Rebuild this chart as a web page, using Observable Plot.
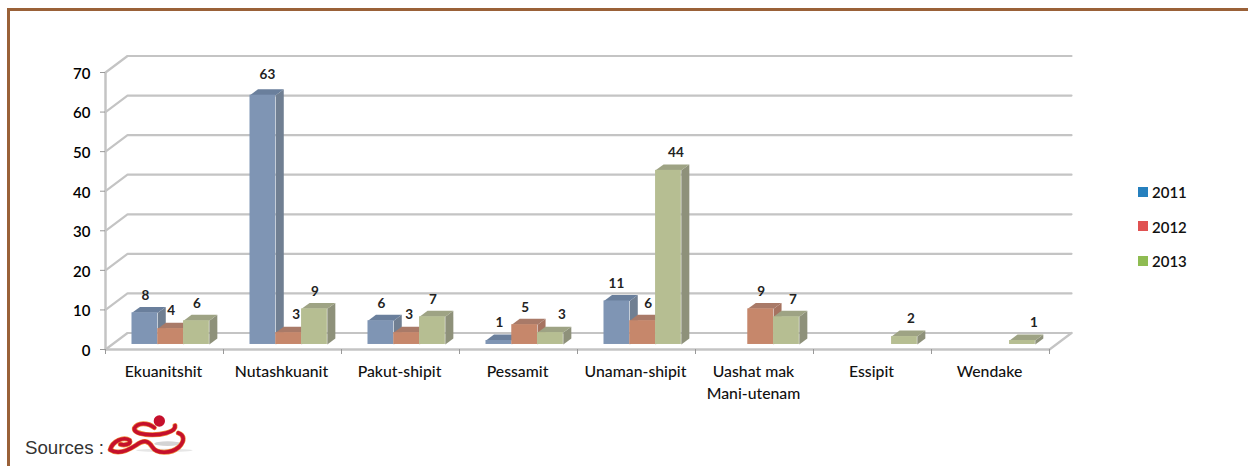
<!DOCTYPE html>
<html><head><meta charset="utf-8">
<script src="https://cdn.jsdelivr.net/npm/d3@7"></script>
<script src="https://cdn.jsdelivr.net/npm/@observablehq/plot@0.6"></script>
<style>
html,body{margin:0;padding:0;background:#fff}
#wrap{position:relative;width:1248px;height:466px;overflow:hidden}
#frame{position:absolute;left:7px;top:8px;right:-5px;bottom:-5px;border-top:3px solid #9a6138;border-left:3px solid #9a6138}
#chart{position:absolute;left:0;top:0}
#legend{position:absolute;left:1138px;top:175px;font:600 15px Lato,sans-serif;color:#111}
#legend div{display:flex;align-items:center;height:35px;gap:4px;margin-top:-.5px}
#legend i{display:block;width:10px;height:10px;margin-top:-1px}
#sources{position:absolute;left:25px;top:437px;font:18.7px "Liberation Sans",Arial,sans-serif;color:#333;line-height:21px}
#logo{position:absolute;left:101px;top:411px}
</style></head><body>
<div id="wrap"><div id="frame"></div><div id="chart"></div>
<div id="legend"></div>
<div id="sources">Sources :</div>
<svg id="logo" width="100" height="56" viewBox="0 0 300 168" fill="none" stroke-linecap="round" stroke-linejoin="round">
<ellipse cx="200" cy="98" rx="40" ry="7" fill="#d4d4d4" stroke="none"/>
<ellipse cx="190" cy="118" rx="85" ry="5" fill="#e6e6e6" stroke="none"/>
<g stroke="#ef8a3a" stroke-width="15">
<path d="M28 116C34 90 68 76 86 88C92 100 70 104 58 100"/>
<path d="M28 116C50 132 82 118 106 102C128 86 142 88 154 108C166 128 208 130 234 108C252 90 250 72 232 66"/>
<path d="M160 50C140 34 110 34 100 52C98 72 160 76 196 66C216 60 224 52 222 44"/>
</g>
<g stroke="#c5102c" stroke-width="11">
<path d="M28 116C34 90 68 76 86 88C92 100 70 104 58 100"/>
<path d="M28 116C50 132 82 118 106 102C128 86 142 88 154 108C166 128 208 130 234 108C252 90 250 72 232 66"/>
<path d="M160 50C140 34 110 34 100 52C98 72 160 76 196 66C216 60 224 52 222 44"/>
</g>
<circle cx="175" cy="30" r="17" fill="#c5102c" stroke="none"/>
</svg>
</div>
<script>
// ---- data ----
const categories = ["Ekuanitshit","Nutashkuanit","Pakut-shipit","Pessamit","Unaman-shipit","Uashat mak\nMani-utenam","Essipit","Wendake"];
const years = ["2011","2012","2013"];
const values2011 = [8,63,6,1,11,null,null,null];
const values2012 = [4,3,3,5,6,9,null,null];
const values2013 = [6,9,7,3,44,7,2,1];
const yTicks = [0,10,20,30,40,50,60,70];
// ---- styling ----
const legendColors = ["#2680be","#e05252","#8fbc52"];
const frontColors = ["#7f95b4","#c6876b","#b6be92"];
const topColors = ["#6a7f9c","#a97a68","#9ea384"];
const sideColors = ["#707f92","#a67360","#8e917a"];
const grid = "#c4c4c4";
// ---- layout, in scale units ----
const wallDX = 22/118, wallDY = 16.5/3.957;   // depth of the floor
const barDX = 8/118, barDY = 1.5;             // depth of one bar
const barW = 0.2185, groupStart = 0.2245, base = 1.27;
const nudge = [[0,0,0],[4,7,0],[0,2,0],[0,0,11],[-1,5,7],[0,0,6],[0,0,6],[0,0,11]];

const series = [values2011,values2012,values2013];
const bars = [];
series.forEach((vals,s)=>vals.forEach((v,c)=>{
  if(v==null) return;
  const x1 = c+groupStart+s*barW, x2 = x1+barW;
  bars.push({c,s,v,x1,x2,y1:base,y2:base+v,year:years[s]});
}));
bars.sort((a,b)=>a.c-b.c||a.s-b.s);
const faces = bars.flatMap((b,i)=>[
  {id:i+"s",fill:sideColors[b.s],pts:[[b.x2,b.y1],[b.x2+barDX,b.y1+barDY],[b.x2+barDX,b.y2+barDY],[b.x2,b.y2]]},
  {id:i+"t",fill:topColors[b.s],pts:[[b.x1,b.y2],[b.x1+barDX,b.y2+barDY],[b.x2+barDX,b.y2+barDY],[b.x2,b.y2]]}
]).flatMap(f=>f.pts.map(p=>({id:f.id,fill:f.fill,x:p[0],y:p[1]})));
const wallLines = yTicks.flatMap(v=>[
  {v,x:0,y:v},{v,x:wallDX,y:v+wallDY},{v,x:8+wallDX,y:v+wallDY}
]);
const font = "Lato, sans-serif";
const plot = Plot.plot({
  width:1248,height:466,marginLeft:105,marginRight:199,marginTop:72,marginBottom:117,
  style:{background:"transparent",overflow:"visible",fontFamily:font},
  x:{domain:[0,8]},y:{domain:[0,70]},
  marks:[
    Plot.line(wallLines,{x:"x",y:"y",z:"v",stroke:grid,strokeWidth:2.2,curve:"linear"}),
    Plot.line([{x:8,y:0},{x:8+wallDX,y:wallDY}],{x:"x",y:"y",stroke:grid,strokeWidth:2.2}),
    Plot.ruleX([0],{y1:0,y2:70,stroke:grid,strokeWidth:2.5}),
    Plot.ruleY([0],{x1:0,x2:8,stroke:grid,strokeWidth:2.5}),
    Plot.axisY({ticks:yTicks,tickSize:5,stroke:"#999",label:null,tickFormat:()=>""}),
    Plot.axisY({ticks:yTicks,tickSize:0,tickPadding:15,dy:1.5,label:null,fontSize:15,fontWeight:600,fill:"#000"}),
    Plot.axisX({ticks:d3.range(0,9),tickSize:5,stroke:"#999",tickFormat:()=>"",label:null}),
    Plot.axisX({ticks:d3.range(8).map(i=>i+0.5),tickSize:0,tickPadding:12,tickFormat:d=>categories[d-0.5],
      label:null,fontSize:15.8,fontWeight:500,fill:"#111",lineHeight:1.38,textAnchor:"middle",dx:-1,dy:0.5}),
    Plot.line(faces,{x:"x",y:"y",z:"id",fill:"fill",stroke:null,curve:"linear-closed"}),
    Plot.rect(bars,{x1:"x1",x2:"x2",y1:"y1",y2:"y2",fill:d=>frontColors[d.s],inset:0}),
    Plot.text(bars,{x:d=>(d.x1+d.x2)/2+(nudge[d.c][d.s]+0.5)/118,y:d=>d.y2+(d.v>50?0.7:0),text:"v",dy:-17.5,
      fontSize:13.5,fontWeight:700,fill:"#222"})
  ]
});
document.getElementById("chart").append(plot);
const lg = d3.select("#legend");
years.forEach((y,i)=>{const r=lg.append("div");r.append("i").style("background",legendColors[i]);r.append("span").text(y);});
</script>
</body></html>
